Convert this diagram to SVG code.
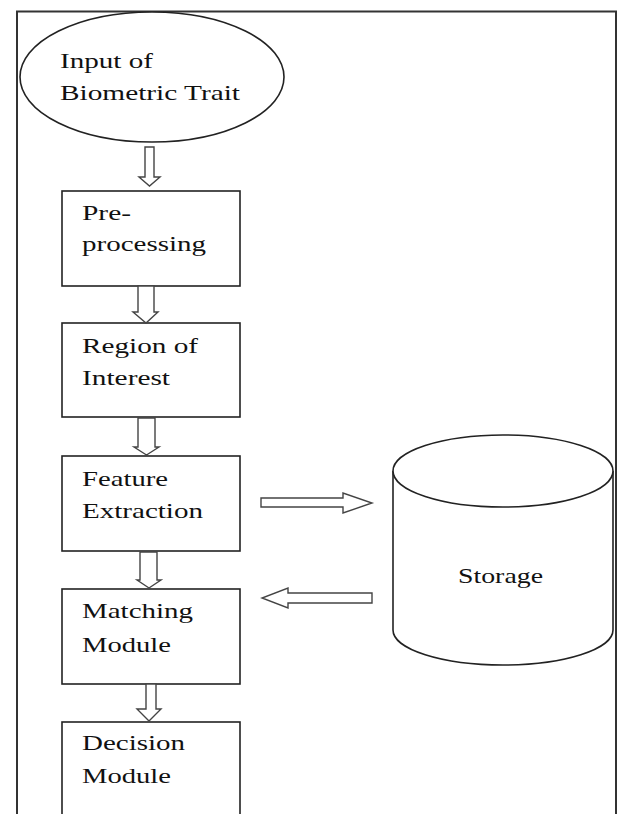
<svg xmlns="http://www.w3.org/2000/svg" width="617" height="814" viewBox="0 0 617 814">
<style>
.shape{fill:#fff;stroke:#222;stroke-width:1.6}
.arrow{fill:#fff;stroke:#444;stroke-width:1.4;stroke-linejoin:miter}
.t{font-family:"Liberation Serif","Times New Roman",serif;font-size:22px;fill:#111}
</style>
<rect width="617" height="814" fill="#fff"/>
<path d="M17,814 V11.5 H616 V814" fill="none" stroke="#333" stroke-width="2"/>
<g id="input">
<ellipse class="shape" cx="152" cy="77" rx="132" ry="65"/>
<text class="t" x="60" y="68" textLength="93" lengthAdjust="spacingAndGlyphs">Input of</text>
<text class="t" x="60" y="100" textLength="180" lengthAdjust="spacingAndGlyphs">Biometric Trait</text>
</g>
<g id="preprocessing">
<rect class="shape" x="62" y="191" width="178" height="95"/>
<text class="t" x="82" y="220" textLength="49" lengthAdjust="spacingAndGlyphs">Pre-</text>
<text class="t" x="82" y="251" textLength="124" lengthAdjust="spacingAndGlyphs">processing</text>
</g>
<g id="roi">
<rect class="shape" x="62" y="323" width="178" height="94"/>
<text class="t" x="82" y="353" textLength="116" lengthAdjust="spacingAndGlyphs">Region of</text>
<text class="t" x="82" y="385" textLength="88" lengthAdjust="spacingAndGlyphs">Interest</text>
</g>
<g id="feature">
<rect class="shape" x="62" y="456" width="178" height="95"/>
<text class="t" x="82" y="486" textLength="86" lengthAdjust="spacingAndGlyphs">Feature</text>
<text class="t" x="82" y="518" textLength="121" lengthAdjust="spacingAndGlyphs">Extraction</text>
</g>
<g id="matching">
<rect class="shape" x="62" y="589" width="178" height="95"/>
<text class="t" x="82" y="618" textLength="111" lengthAdjust="spacingAndGlyphs">Matching</text>
<text class="t" x="82" y="652" textLength="89" lengthAdjust="spacingAndGlyphs">Module</text>
</g>
<g id="decision">
<rect class="shape" x="62" y="722" width="178" height="110"/>
<text class="t" x="82" y="750" textLength="103" lengthAdjust="spacingAndGlyphs">Decision</text>
<text class="t" x="82" y="783" textLength="89" lengthAdjust="spacingAndGlyphs">Module</text>
</g>
<g id="storage">
<path class="shape" d="M393,471 V630 A110,35 0 0 0 613,630 V471"/>
<ellipse class="shape" cx="503" cy="471" rx="110" ry="36"/>
<text class="t" x="458" y="583" textLength="85" lengthAdjust="spacingAndGlyphs">Storage</text>
</g>
<g id="connectors">
<polygon class="arrow" points="145,147 154,147 154,177 160,177 149.5,186 139,177 145,177"/>
<polygon class="arrow" points="138,286 154,286 154,312 158,312 146,323 133,312 138,312"/>
<polygon class="arrow" points="138,418 155,418 155,447 159,447 146.5,455 134,447 138,447"/>
<polygon class="arrow" points="140,552 157,552 157,580 161,580 149,588 137,580 140,580"/>
<polygon class="arrow" points="146,684 156,684 156,709 161,709 149,721 137,709 146,709"/>
<polygon class="arrow" points="261,498 343,498 343,493 372,503 343,513 343,507 261,507"/>
<polygon class="arrow" points="372,593 288,593 288,588 262,598 288,608 288,603 372,603"/>
</g>
</svg>
